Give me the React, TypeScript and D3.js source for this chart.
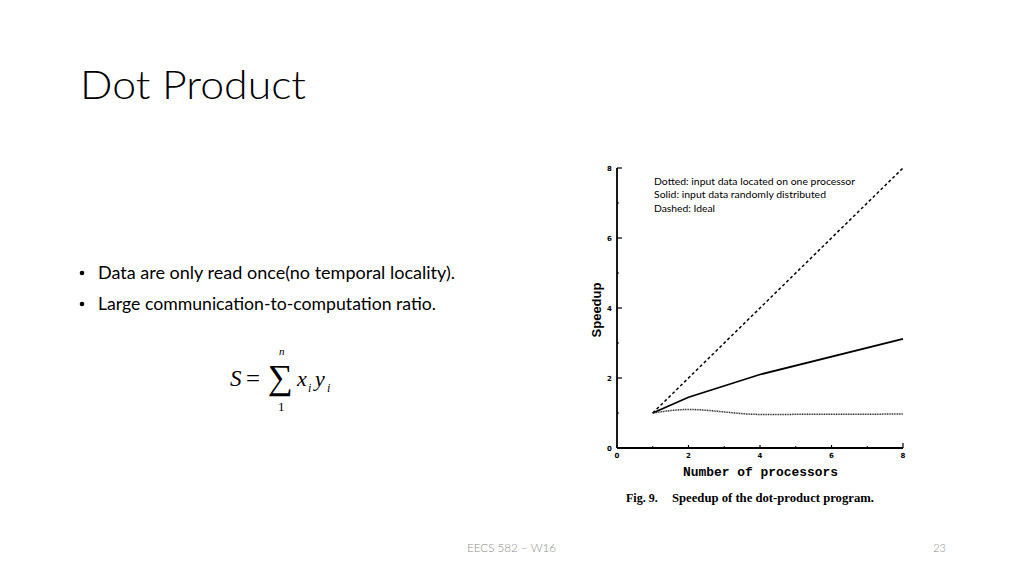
import * as d3 from 'd3';

// chart values
const processors = [1, 2, 4, 8];
const solidSpeedup = [1.0, 1.45, 2.1, 3.12];
const dottedSpeedup = [1.0, 1.1, 0.96, 0.97];
const idealProcessors = [1, 8];
const idealSpeedup = [1, 8];
const majorTicks = [0, 2, 4, 6, 8];
const minorTicks = [1, 3, 5, 7];
const legendLines = [
  'Dotted: input data located on one processor',
  'Solid: input data randomly distributed',
  'Dashed: Ideal',
];
const bullets = [
  'Data are only read once(no temporal locality).',
  'Large communication-to-computation ratio.',
];

const W = 1024;
const H = 576;
const sans = "Lato, 'Open Sans', sans-serif";
const serif = "'Liberation Serif', 'DejaVu Serif', serif";

export default function App() {
  const x = d3.scaleLinear().domain([0, 8]).range([617, 903]);
  const y = d3.scaleLinear().domain([0, 8]).range([448, 168]);

  const pts = (xs: number[], ys: number[]) => xs.map((v, i) => [v, ys[i]] as [number, number]);
  const straight = d3.line<[number, number]>().x(d => x(d[0])).y(d => y(d[1]));
  const smooth = d3.line<[number, number]>().x(d => x(d[0])).y(d => y(d[1])).curve(d3.curveMonotoneX);

  return (
    <svg width={W} height={H} style={{ position: 'absolute', left: 0, top: 0, background: '#fff' }}>
      {/* slide title */}
      <text x={80} y={99} fontFamily={sans} fontWeight={300} fontSize={40} fill="#000"
        textLength={226} lengthAdjust="spacingAndGlyphs">Dot Product</text>

      {/* bullets */}
      {bullets.map((b, i) => (
        <g key={b}>
          <circle cx={82} cy={273 + i * 31} r={2.3} fill="#000" />
          <text x={98} y={279 + i * 31} fontFamily={sans} fontSize={17} fill="#000"
            textLength={i === 0 ? 357 : 338} lengthAdjust="spacingAndGlyphs">{b}</text>
        </g>
      ))}

      {/* formula */}
      <g fontFamily={serif} fill="#000">
        <text x={230} y={386} fontSize={23} fontStyle="italic">S</text>
        <text x={246} y={386} fontSize={23} textLength={14} lengthAdjust="spacingAndGlyphs">=</text>
        <text x={268} y={389} fontSize={35}>∑</text>
        <text x={279} y={355} fontSize={11} fontStyle="italic">n</text>
        <text x={278} y={411} fontSize={13}>1</text>
        <text x={297} y={386} fontSize={22} fontStyle="italic">x</text>
        <text x={308} y={392} fontSize={12} fontStyle="italic">i</text>
        <text x={315} y={386} fontSize={22} fontStyle="italic">y</text>
        <text x={327} y={392} fontSize={12} fontStyle="italic">i</text>
      </g>

      {/* axes */}
      <line x1={x(0)} x2={x(0)} y1={y(8)} y2={y(0)} stroke="#000" strokeWidth={1.8} />
      <line x1={x(0)} x2={x(8)} y1={y(0)} y2={y(0)} stroke="#000" strokeWidth={1.8} />
      {majorTicks.map(t => (
        <g key={'y' + t}>
          <line x1={x(0)} x2={x(0) + 5} y1={y(t)} y2={y(t)} stroke="#000" strokeWidth={1.2} />
          <text x={609.5} y={y(t) + 2.5} fontFamily="'DejaVu Sans', sans-serif" fontWeight="bold" fontSize={7}
            textAnchor="middle">{t}</text>
        </g>
      ))}
      {minorTicks.map(t => (
        <line key={'ym' + t} x1={x(0)} x2={x(0) + 2} y1={y(t)} y2={y(t)} stroke="#000" strokeWidth={1} />
      ))}
      {majorTicks.map(t => (
        <g key={'x' + t}>
          <line x1={x(t)} x2={x(t)} y1={y(0)} y2={y(0) - (t === 8 ? 5 : 3)} stroke="#000" strokeWidth={1.2} />
          <text x={x(t)} y={458} fontFamily="'DejaVu Sans', sans-serif" fontWeight="bold" fontSize={7}
            textAnchor="middle">{t}</text>
        </g>
      ))}
      {minorTicks.map(t => (
        <line key={'xm' + t} x1={x(t)} x2={x(t)} y1={y(0)} y2={y(0) - 2} stroke="#000" strokeWidth={1} />
      ))}

      {/* series */}
      <path d={straight(pts(idealProcessors, idealSpeedup)) ?? ''} fill="none" stroke="#000"
        strokeWidth={1.5} strokeDasharray="3,2.5" />
      <path d={straight(pts(processors, solidSpeedup)) ?? ''} fill="none" stroke="#000" strokeWidth={1.8} />
      <path d={smooth(pts(processors, dottedSpeedup)) ?? ''} fill="none" stroke="#222"
        strokeWidth={1.5} strokeDasharray="1,0.7" />

      {/* legend text */}
      {legendLines.map((l, i) => (
        <text key={l} x={654} y={185 + i * 13.3} fontFamily={sans} fontSize={10} fill="#000"
          textLength={[201, 172, 61][i]} lengthAdjust="spacingAndGlyphs">{l}</text>
      ))}

      {/* axis titles */}
      <text transform="translate(601,310) rotate(-90)" textAnchor="middle"
        fontFamily="'Liberation Sans', Arial, sans-serif" fontWeight="bold" fontSize={13}
        textLength={55} lengthAdjust="spacingAndGlyphs">Speedup</text>
      <text x={683} y={476} fontFamily="'Liberation Mono', monospace" fontWeight="bold" fontSize={13}
        textLength={155} lengthAdjust="spacingAndGlyphs">Number of processors</text>

      {/* caption */}
      <text x={626} y={502} fontFamily={serif} fontWeight="bold" fontSize={12}>Fig. 9.</text>
      <text x={672} y={502} fontFamily={serif} fontWeight="bold" fontSize={12}
        textLength={202} lengthAdjust="spacingAndGlyphs">Speedup of the dot-product program.</text>

      {/* footer */}
      <text x={467} y={552} fontFamily={sans} fontWeight={300} fontSize={11} fill="#8c8c8c"
        textLength={89} lengthAdjust="spacingAndGlyphs">EECS 582 – W16</text>
      <text x={946} y={552} fontFamily={sans} fontWeight={300} fontSize={11} fill="#8c8c8c"
        textAnchor="end">23</text>
    </svg>
  );
}
